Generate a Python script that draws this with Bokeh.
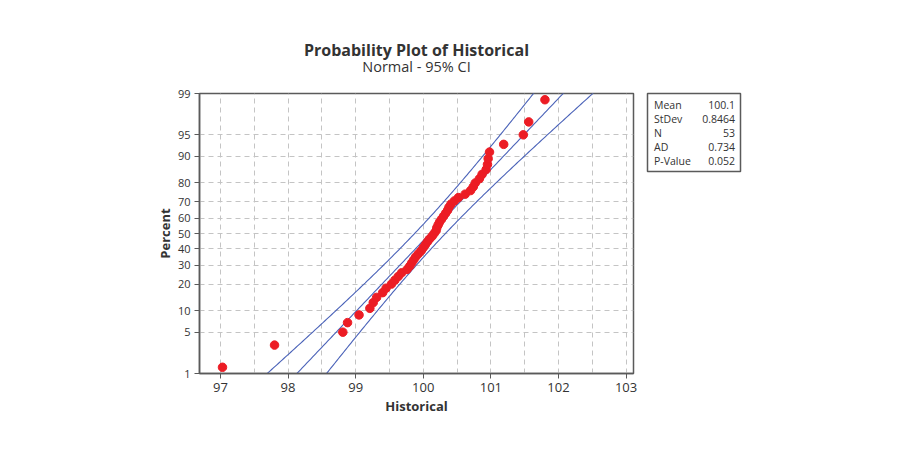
from statistics import NormalDist
import numpy as np
from bokeh.plotting import figure
from bokeh.layouts import row
from bokeh.models import Range1d, FixedTicker, Title, SingleIntervalTicker
from bokeh.embed import file_html
from bokeh.resources import INLINE
from bokeh.core.properties import value

# ---- data ----
historical = [97.03, 97.80, 98.81, 98.88, 99.05, 99.21, 99.26, 99.31, 99.40, 99.45,
              99.53, 99.58, 99.63, 99.68, 99.76, 99.80, 99.83, 99.86, 99.89, 99.93,
              99.97, 100.00, 100.03, 100.06, 100.09, 100.13, 100.16, 100.19, 100.20, 100.22,
              100.24, 100.27, 100.30, 100.33, 100.36, 100.38, 100.41, 100.46, 100.52, 100.62,
              100.70, 100.74, 100.77, 100.83, 100.87, 100.93, 100.95, 100.96, 100.98, 101.19,
              101.48, 101.56, 101.80]
mean_val = 100.1
stdev_val = 0.8464
stat_names = ["Mean", "StDev", "N", "AD", "P-Value"]
stat_values = ["100.1", "0.8464", "53", "0.734", "0.052"]
percent_ticks = [1, 5, 10, 20, 30, 40, 50, 60, 70, 80, 90, 95, 99]
x_ticks = [97, 98, 99, 100, 101, 102, 103]

FONT = "Open Sans"
TXT = "#333333"
FRAME = "#5a5a5a"

nd = NormalDist()
n = len(historical)
xs = sorted(historical)
zs = [nd.inv_cdf((i + 1 - 0.3) / (n + 0.4)) for i in range(n)]
tick_z = [round(nd.inv_cdf(q / 100.0), 6) for q in percent_ticks]

p = figure(frame_width=434, frame_height=280,
           min_border_left=199, min_border_right=7, min_border_top=93, min_border_bottom=55,
           x_range=Range1d(96.69, 103.11), y_range=Range1d(tick_z[0], tick_z[-1]),
           output_backend="svg", toolbar_location=None, title=None)

# spacer, subtitle, title (stacked outward from the frame)
p.add_layout(Title(text=" ", text_font_size="1px", standoff=15), "above")
p.add_layout(Title(text="Normal - 95% CI", align="center", text_font=FONT,
                   text_font_size="14.5px", text_font_style="normal", text_color=TXT,
                   standoff=0), "above")
p.add_layout(Title(text="Probability Plot of Historical", align="center", text_font=FONT,
                   text_font_size="16px", text_font_style="bold", text_color=TXT,
                   standoff=-12), "above")

p.background_fill_color = "white"
p.border_fill_color = "white"
p.outline_line_color = FRAME
p.outline_line_width = 1.5

# grid
p.xgrid.ticker = SingleIntervalTicker(interval=0.5)
p.ygrid.ticker = FixedTicker(ticks=tick_z[1:-1])
for g in (p.xgrid, p.ygrid):
    g.grid_line_color = "#c4c4c4"
    g.grid_line_dash = "5 4"
    g.grid_line_width = 1

# axes
p.xaxis.ticker = FixedTicker(ticks=x_ticks)
p.yaxis.ticker = FixedTicker(ticks=tick_z)
p.yaxis.major_label_overrides = {z: str(q) for z, q in zip(tick_z, percent_ticks)}
p.xaxis.axis_label = "Historical"
p.yaxis.axis_label = "Percent"
for ax in (p.xaxis, p.yaxis):
    ax.axis_line_color = FRAME
    ax.axis_line_width = 1.5
    ax.major_tick_line_color = FRAME
    ax.major_tick_out = 5
    ax.major_tick_in = 0
    ax.minor_tick_line_color = None
    ax.major_label_text_font = FONT
    ax.major_label_text_color = TXT
    ax.axis_label_text_font = FONT
    ax.axis_label_text_font_style = "bold"
    ax.axis_label_text_font_size = "13px"
    ax.axis_label_text_color = TXT
p.xaxis.major_label_text_font_size = "13px"
p.yaxis.major_label_text_font_size = "11px"
p.xaxis.major_label_standoff = 4
p.yaxis.major_label_standoff = 4
p.xaxis.axis_label_standoff = 2
p.yaxis.axis_label_standoff = 1

# fitted line and 95% CI
zg = np.linspace(-2.6, 2.6, 200)
center = mean_val + stdev_val * zg
half = 1.96 * stdev_val / np.sqrt(n) * np.sqrt(1 + zg ** 2 / 2)
LINE = "#4a62b8"
p.line(center, zg, line_color=LINE, line_width=1.1)
p.line(center - half, zg, line_color=LINE, line_width=1.1)
p.line(center + half, zg, line_color=LINE, line_width=1.1)

p.scatter(xs, zs, size=8.5, fill_color="#ec1c24", line_color="#ec1c24")

# stats box
s = figure(frame_width=93, frame_height=78,
           min_border_left=7, min_border_right=10, min_border_top=92, min_border_bottom=10,
           x_range=Range1d(0, 1), y_range=Range1d(0, 5.6),
           x_axis_location=None, y_axis_location=None,
           output_backend="svg", toolbar_location=None, title=None)
s.grid.visible = False
s.outline_line_color = FRAME
s.outline_line_width = 1.5
s.border_fill_color = "white"
ys = [4.78 - i for i in range(len(stat_names))]
s.text(x=[0.07] * len(stat_names), y=ys, text=stat_names, text_align="left",
       text_baseline="middle", text_font=value(FONT), text_font_size="10.5px", text_color=TXT)
s.text(x=[0.94] * len(stat_values), y=ys, text=stat_values, text_align="right",
       text_baseline="middle", text_font=value(FONT), text_font_size="10.5px", text_color=TXT)

layout = row(p, s)
open("out.html", "w").write(file_html(layout, INLINE))
